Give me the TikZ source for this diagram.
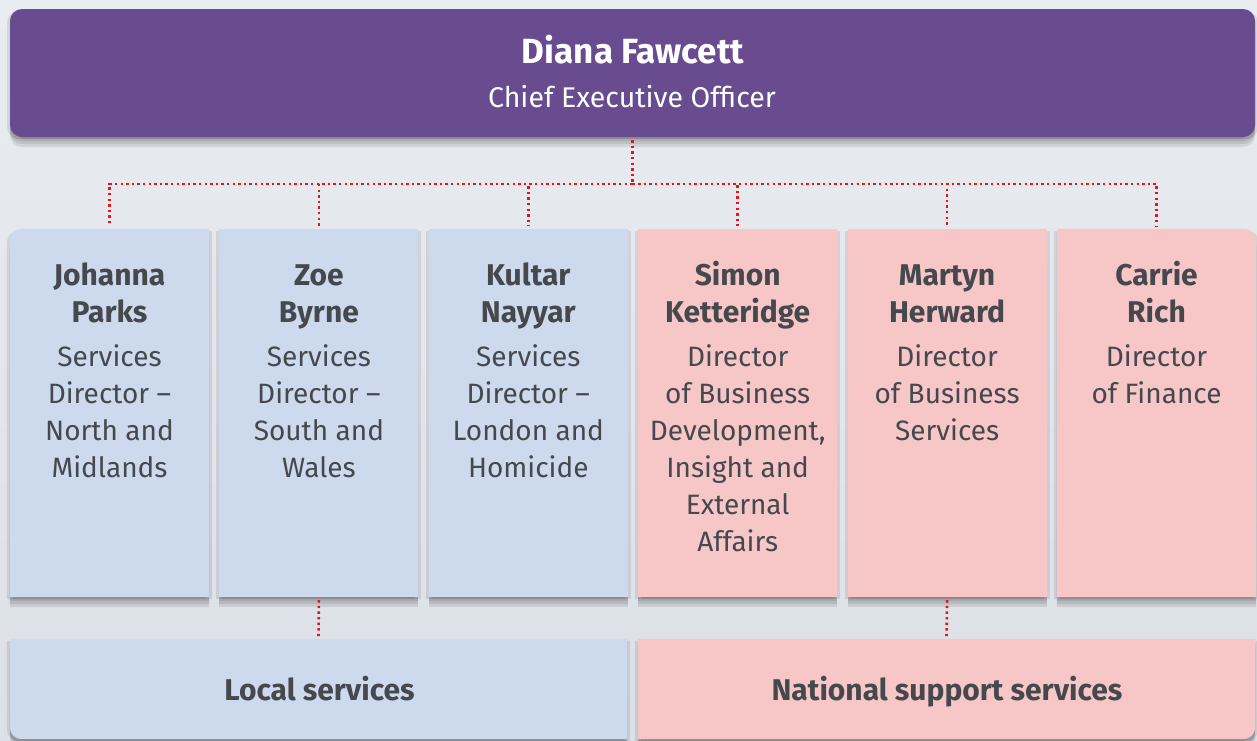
\documentclass[tikz,border=0pt]{standalone}
\usepackage{fontspec}
\setmainfont{Fira Sans}
\usepackage{xcolor}
\definecolor{ceopurple}{HTML}{694B8F}
\definecolor{localblue}{HTML}{CDDAED}
\definecolor{nationalpink}{HTML}{F7C6C7}
\definecolor{dotred}{HTML}{E3141C}
\definecolor{namegray}{HTML}{45484D}
\definecolor{pagetop}{HTML}{E9ECF0}
\definecolor{pagebottom}{HTML}{DCE0E7}
\newcommand{\pname}[1]{{\fontsize{30}{37}\selectfont\bfseries #1}}

\begin{document}
\begin{tikzpicture}[x=1pt,y=-1pt,
		box/.style={rectangle,inner sep=0pt,minimum width=199pt,minimum height=368pt},
		band/.style={rectangle,inner sep=0pt,minimum width=617pt,minimum height=100pt},
		shadowstep/.style={preaction={fill=black,fill opacity=0.09,transform canvas={#1}}},
		boxshadow/.style={shadowstep={xshift=-3pt,yshift=-2pt},shadowstep={xshift=3pt,yshift=-2pt},
			shadowstep={yshift=-4pt},shadowstep={yshift=-7pt},shadowstep={yshift=-10pt}},
		person/.style={anchor=north,inner sep=0pt,align=center,text=namegray,font=\fontsize{28}{37}\selectfont},
		link/.style={dotred,line width=2.6pt,dash pattern=on 2.4pt off 3.2pt}]
				\shade[top color=pagetop,bottom color=pagebottom] (0,0) rectangle (1257,740);
				\useasboundingbox (0,0) rectangle (1257,740);
				\node(ceo) at (632.5,73)[rectangle,rounded corners=12pt,minimum width=1245pt,minimum height=128pt,fill=ceopurple,boxshadow]{};
				\node(ceoname) at (633,63)[anchor=base,text=white,font=\fontsize{35}{40}\selectfont\bfseries]{Diana Fawcett};
				\node(ceorole) at (632,107)[anchor=base,text=white,font=\fontsize{28.5}{36}\selectfont]{Chief Executive Officer};
				% six directors
				\node(j) at (109.5,413)[box]{};
				\node(z) at (318.9,413)[box,fill=localblue,boxshadow]{};
				\node(k) at (528.3,413)[box,fill=localblue,boxshadow]{};
				\node(s) at (737.7,413)[box,fill=nationalpink,boxshadow]{};
				\node(m) at (947.1,413)[box,fill=nationalpink,boxshadow]{};
				\node(c) at (1156.5,413)[box]{};
				\fill[localblue,boxshadow] (j.west) [rounded corners=12pt] -- (j.north west) -- (j.north) [sharp corners] -- (j.north east) -- (j.south east) -- (j.south west) -- cycle;
				\fill[nationalpink,boxshadow] (c.north) [rounded corners=12pt] -- (c.north east) -- (c.east) [sharp corners] -- (c.south east) -- (c.south west) -- (c.north west) -- cycle;
				\node(local) at (318.5,689)[band]{};
				\node(natl) at (946.5,689)[band]{};
				\fill[localblue,boxshadow] (local.south) [rounded corners=12pt] -- (local.south west) -- (local.west) [sharp corners] -- (local.north west) -- (local.north east) -- (local.south east) -- cycle;
				\fill[nationalpink,boxshadow] (natl.east) [rounded corners=12pt] -- (natl.south east) -- (natl.south) [sharp corners] -- (natl.south west) -- (natl.north west) -- (natl.north east) -- cycle;
				\node(jt) at (109.5,259.1)[person]{\strut\pname{Johanna}\\\pname{Parks}\\[7pt]Services\\Director –\\North and\\Midlands};
				\node(zt) at (318.9,259.1)[person]{\strut\pname{Zoe}\\\pname{Byrne}\\[7pt]Services\\Director –\\South and\\Wales};
				\node(kt) at (528.3,259.1)[person]{\strut\pname{Kultar}\\\pname{Nayyar}\\[7pt]Services\\Director –\\London and\\Homicide};
				\node(st) at (737.7,259.1)[person]{\strut\pname{Simon}\\\pname{Ketteridge}\\[7pt]Director\\of Business\\Development,\\Insight and\\External\\Affairs};
				\node(mt) at (947.1,259.1)[person]{\strut\pname{Martyn}\\\pname{Herward}\\[7pt]Director\\of Business\\Services};
				\node(ct) at (1156.5,259.1)[person]{\strut\pname{Carrie}\\\pname{Rich}\\[7pt]Director\\of Finance};
				\node(localt) at (319.5,700)[anchor=base,text=namegray,font=\fontsize{30}{38}\selectfont\bfseries]{Local services};
				\node(natlt) at (947,700)[anchor=base,text=namegray,font=\fontsize{30}{38}\selectfont\bfseries]{National support services};
				\coordinate(bar) at (632.5,184);
				\draw[link] ([yshift=-3pt]ceo.south) -- (bar);
				\foreach \b in {j,z,k,s,m,c}
					\draw[link] (bar) -| ([yshift=3pt]\b.north);
				\draw[link] ([yshift=-3pt]z.south) -- ([yshift=2pt]local.north);
				\draw[link] ([yshift=-3pt]m.south) -- ([yshift=2pt]natl.north);
			\end{tikzpicture}
\end{document}
